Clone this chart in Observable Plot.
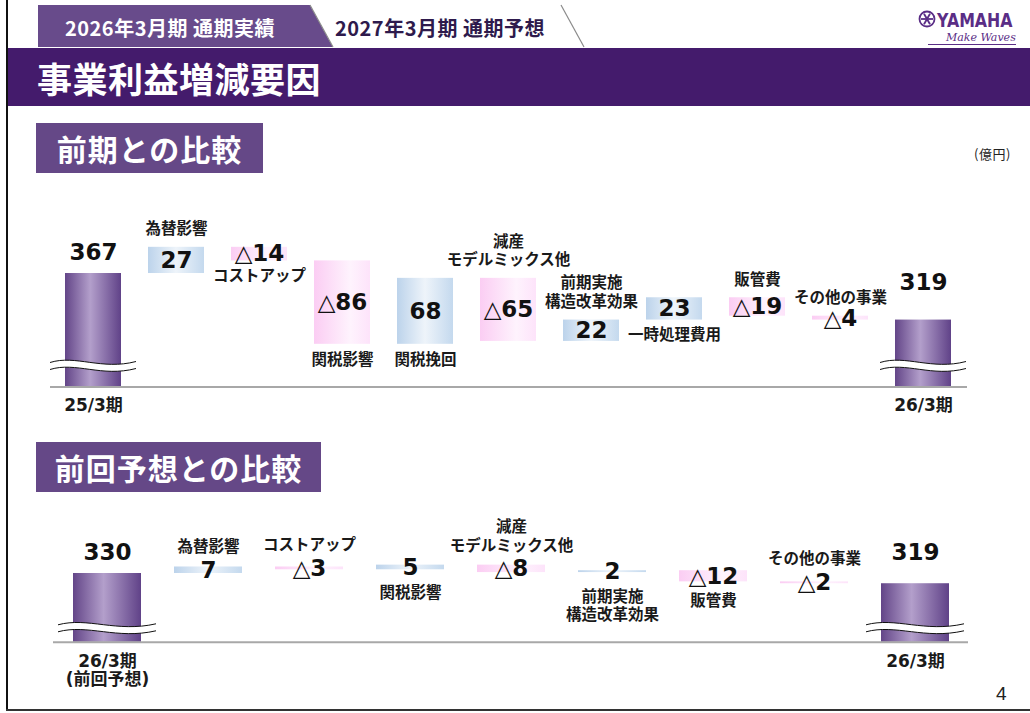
<!DOCTYPE html>
<html><head><meta charset="utf-8">
<script src="https://cdn.jsdelivr.net/npm/d3@7"></script>
<script src="https://cdn.jsdelivr.net/npm/@observablehq/plot@0.6"></script>
<style>
body{margin:0;background:#fff;}
#page{position:relative;width:1030px;height:713px;overflow:hidden;background:#fff;font-family:"Noto Sans CJK JP","Noto Sans",sans-serif;}
.abs{position:absolute;}
.sec{position:absolute;background:#654887;color:#fff;font-weight:bold;font-size:30px;display:flex;align-items:center;justify-content:center;letter-spacing:1px;}
</style></head>
<body><div id="page">
<svg width="0" height="0" style="position:absolute"><defs>
 <linearGradient id="gTotal" x1="0" x2="1" y1="0" y2="0">
  <stop offset="0" stop-color="#634588"/><stop offset="0.45" stop-color="#b39fcb"/><stop offset="1" stop-color="#604288"/>
 </linearGradient>
 <linearGradient id="gUp" x1="0" x2="1" y1="0" y2="0">
  <stop offset="0" stop-color="#bcd3eb"/><stop offset="0.5" stop-color="#eef4fa"/><stop offset="1" stop-color="#c4d9ee"/>
 </linearGradient>
 <linearGradient id="gDown" x1="0" x2="1" y1="0" y2="0">
  <stop offset="0" stop-color="#fbcdf3"/><stop offset="0.65" stop-color="#fef3fd"/><stop offset="1" stop-color="#fde3fa"/>
 </linearGradient>
</defs></svg>

<svg class="abs" style="left:0;top:0" width="1030" height="110">
 <polygon points="38,5 310,5 333,47 38,47" fill="#684b8b"/>
 <polygon points="310,5 561,5 584,47 333,47" fill="#fff"/>
 <line x1="310" y1="5" x2="333" y2="47" stroke="#8a8a8a" stroke-width="1.2"/>
 <line x1="561" y1="5" x2="584" y2="47" stroke="#8a8a8a" stroke-width="1.2"/>
 <text x="170" y="27" text-anchor="middle" dominant-baseline="central" fill="#fff" font-weight="bold" font-size="20" letter-spacing="0.5" font-family="Noto Sans CJK JP">2026年3月期 通期実績</text>
 <text x="440" y="27" text-anchor="middle" dominant-baseline="central" fill="#2e1a4c" font-weight="bold" font-size="20" letter-spacing="0.5" font-family="Noto Sans CJK JP">2027年3月期 通期予想</text>
 <rect x="8" y="48" width="1022" height="58" fill="#441b6c"/>
 <text x="37" y="77" dominant-baseline="central" fill="#fff" font-weight="bold" font-size="35" letter-spacing="0.5" font-family="Noto Sans CJK JP">事業利益増減要因</text>
 <g transform="translate(927,19)" stroke="#5a2d86" fill="none" stroke-width="1.8">
  <circle r="7.5"/>
  <line x1="-6" y1="0" x2="6" y2="0"/><line x1="-3" y1="-5.2" x2="3" y2="5.2"/><line x1="3" y1="-5.2" x2="-3" y2="5.2"/>
 </g>
 <text transform="translate(937,27) scale(0.79,1)" fill="#5a2d86" font-weight="bold" font-size="20" font-family="DejaVu Sans">YAMAHA</text>
 <text x="946" y="41" fill="#5a2d86" font-style="italic" font-size="11" font-family="DejaVu Serif">Make Waves</text>
 <line x1="928" y1="44.5" x2="1016" y2="44.5" stroke="#5a2d86" stroke-width="1"/>
</svg>

<div class="sec" style="left:36px;top:123px;width:227px;height:50px;">前期との比較</div>
<div class="sec" style="left:36px;top:442px;width:285px;height:50px;">前回予想との比較</div>
<div class="abs" style="left:974px;top:144px;font-size:13px;color:#222;letter-spacing:0.5px;">(億円)</div>
<div class="abs" style="left:996px;top:683px;font-size:19px;color:#222;font-family:'Liberation Sans',sans-serif;">4</div>
<div class="abs" style="left:6px;top:0;width:2px;height:711px;background:#111;"></div>
<div class="abs" style="left:6px;top:709px;width:1024px;height:2px;background:#333;"></div>
</div>

<script>
// ---- data ----
const topCategories = ["25/3期", "為替影響", "コストアップ", "関税影響", "関税挽回", "減産\nモデルミックス他", "前期実施\n構造改革効果", "一時処理費用", "販管費", "その他の事業", "26/3期"];
const topValues = [367, 27, -14, -86, 68, -65, 22, 23, -19, -4, 319];
const topLabelSide = ["axis", "above", "below", "below", "below", "above", "above", "below", "above", "above", "axis"];

const bottomCategories = ["26/3期\n(前回予想)", "為替影響", "コストアップ", "関税影響", "減産\nモデルミックス他", "前期実施\n構造改革効果", "販管費", "その他の事業", "26/3期"];
const bottomValues = [330, 7, -3, 5, -8, 2, -12, -2, 319];
const bottomLabelSide = ["axis", "above", "above", "below", "above", "below", "below", "above", "axis"];

const VAL_FONT = '"DejaVu Sans","Noto Sans CJK JP",sans-serif';
const CAT_FONT = '"Noto Sans CJK JP",sans-serif';

function buildRows(values, categories, sides, base) {
  const n = values.length;
  let run = 0;
  return values.map((v, i) => {
    const total = i === 0 || i === n - 1;
    let y1, y2;
    if (total) { y1 = base; y2 = v; run = v; }
    else { y1 = run; y2 = run + v; run = y2; }
    return {i, v, total, y1, y2, cat: categories[i], side: sides[i],
      kind: total ? "total" : (v >= 0 ? "up" : "down"),
      label: v < 0 ? "△" + (-v) : String(v)};
  });
}

function drawChart(o) {
  const rows = buildRows(o.values, o.categories, o.sides, o.domain[0]);
  const n = rows.length;
  const anchorAbove = d => o.mode === "edge" ? Math.max(d.y1, d.y2) : (d.y1 + d.y2) / 2;
  const anchorBelow = d => o.mode === "edge" ? Math.min(d.y1, d.y2) : (d.y1 + d.y2) / 2;
  const plot = Plot.plot({
    width: 1030, height: o.height,
    marginLeft: o.marginLeft, marginRight: o.marginRight, marginTop: 0, marginBottom: 0,
    x: {type: "band", domain: d3.range(n), padding: o.padding, axis: null},
    y: {domain: o.domain, range: o.range, axis: null},
    style: {background: "transparent", overflow: "visible"},
    marks: [
      Plot.barY(rows, {filter: d => d.kind === "total", x: "i", y1: "y1", y2: "y2", fill: "url(#gTotal)"}),
      Plot.barY(rows, {filter: d => d.kind === "up", x: "i", y1: "y1", y2: "y2", fill: "url(#gUp)"}),
      Plot.barY(rows, {filter: d => d.kind === "down", x: "i", y1: "y1", y2: "y2", fill: "url(#gDown)"}),
      Plot.ruleY([o.domain[0]], {stroke: "#a8a8a8", strokeWidth: 2, insetLeft: o.ruleInset[0], insetRight: o.ruleInset[1]}),
      Plot.text(rows, {filter: d => !d.total, x: "i", y: d => (d.y1 + d.y2) / 2, text: "label",
        fontSize: 23, fontWeight: "bold", fontFamily: VAL_FONT, fill: "#111"}),
      Plot.text(rows, {filter: d => d.i === 0, x: "i", y: "y2", dy: o.totalDy[0], text: "label",
        fontSize: 23, fontWeight: "bold", fontFamily: VAL_FONT, fill: "#111"}),
      Plot.text(rows, {filter: d => d.i === n - 1, x: "i", y: "y2", dy: o.totalDy[1], text: "label",
        fontSize: 23, fontWeight: "bold", fontFamily: VAL_FONT, fill: "#111"}),
      Plot.text(rows, {filter: d => d.side === "above", x: "i", y: anchorAbove, text: "cat",
        lineAnchor: "bottom", lineHeight: 1.2, dy: o.aboveDy,
        fontSize: 15.5, fontWeight: "bold", fontFamily: CAT_FONT, fill: "#1a1a1a"}),
      Plot.text(rows, {filter: d => d.side === "below", x: "i", y: anchorBelow, text: "cat",
        lineAnchor: "top", lineHeight: 1.2, dy: o.belowDy,
        fontSize: 15.5, fontWeight: "bold", fontFamily: CAT_FONT, fill: "#1a1a1a"}),
      Plot.text(rows, {filter: d => d.side === "axis", x: "i", y: d => o.domain[0], text: "cat",
        lineAnchor: "top", lineHeight: 1.1, dy: 11,
        fontSize: 17, fontWeight: "bold", fontFamily: VAL_FONT, fill: "#1a1a1a"})
    ]
  });
  plot.style.position = "absolute";
  plot.style.left = "0px";
  plot.style.top = o.top + "px";
  // wavy axis-break over the total bars
  const xs = plot.scale("x"), ys = plot.scale("y");
  const bw = xs.bandwidth;
  const yb = ys.apply(o.domain[0]) - o.breakOffset;
  const svg = d3.select(plot);
  [0, n - 1].forEach(i => {
    const xL = xs.apply(i) - 15, xR = xs.apply(i) + bw + 15, w = xR - xL, t = 7;
    const topC = `M${xL},${yb - 3} C${xL + w * 0.3},${yb - 11} ${xL + w * 0.6},${yb + 5} ${xR},${yb - 4}`;
    const botC = `M${xL},${yb - 3 + t} C${xL + w * 0.3},${yb - 11 + t} ${xL + w * 0.6},${yb + 5 + t} ${xR},${yb - 4 + t}`;
    const fillP = `${topC} L${xR},${yb - 4 + t} C${xL + w * 0.6},${yb + 5 + t} ${xL + w * 0.3},${yb - 11 + t} ${xL},${yb - 3 + t} Z`;
    svg.append("path").attr("d", fillP).attr("fill", "#fff");
    svg.append("path").attr("d", topC).attr("fill", "none").attr("stroke", "#111").attr("stroke-width", 1);
    svg.append("path").attr("d", botC).attr("fill", "none").attr("stroke", "#111").attr("stroke-width", 1);
  });
  document.getElementById("page").appendChild(plot);
}

drawChart({
  values: topValues, categories: topCategories, sides: topLabelSide,
  top: 185, height: 240, domain: [250, 400], range: [201.5, 56],
  padding: 0.32, marginLeft: 36.3, marginRight: 50.3, ruleInset: [13.7, 12.7],
  totalDy: [-21, -37], mode: "edge", aboveDy: -13, belowDy: 7, breakOffset: 21
});
drawChart({
  values: bottomValues, categories: bottomCategories, sides: bottomLabelSide,
  top: 500, height: 200, domain: [256, 350], range: [141.8, 54.4],
  padding: 0.33, marginLeft: 35.4, marginRight: 43.9, ruleInset: [17.6, 18.1],
  totalDy: [-21, -31], mode: "mid", aboveDy: -18.3, belowDy: 16.9, breakOffset: 14
});
</script>
</body></html>
